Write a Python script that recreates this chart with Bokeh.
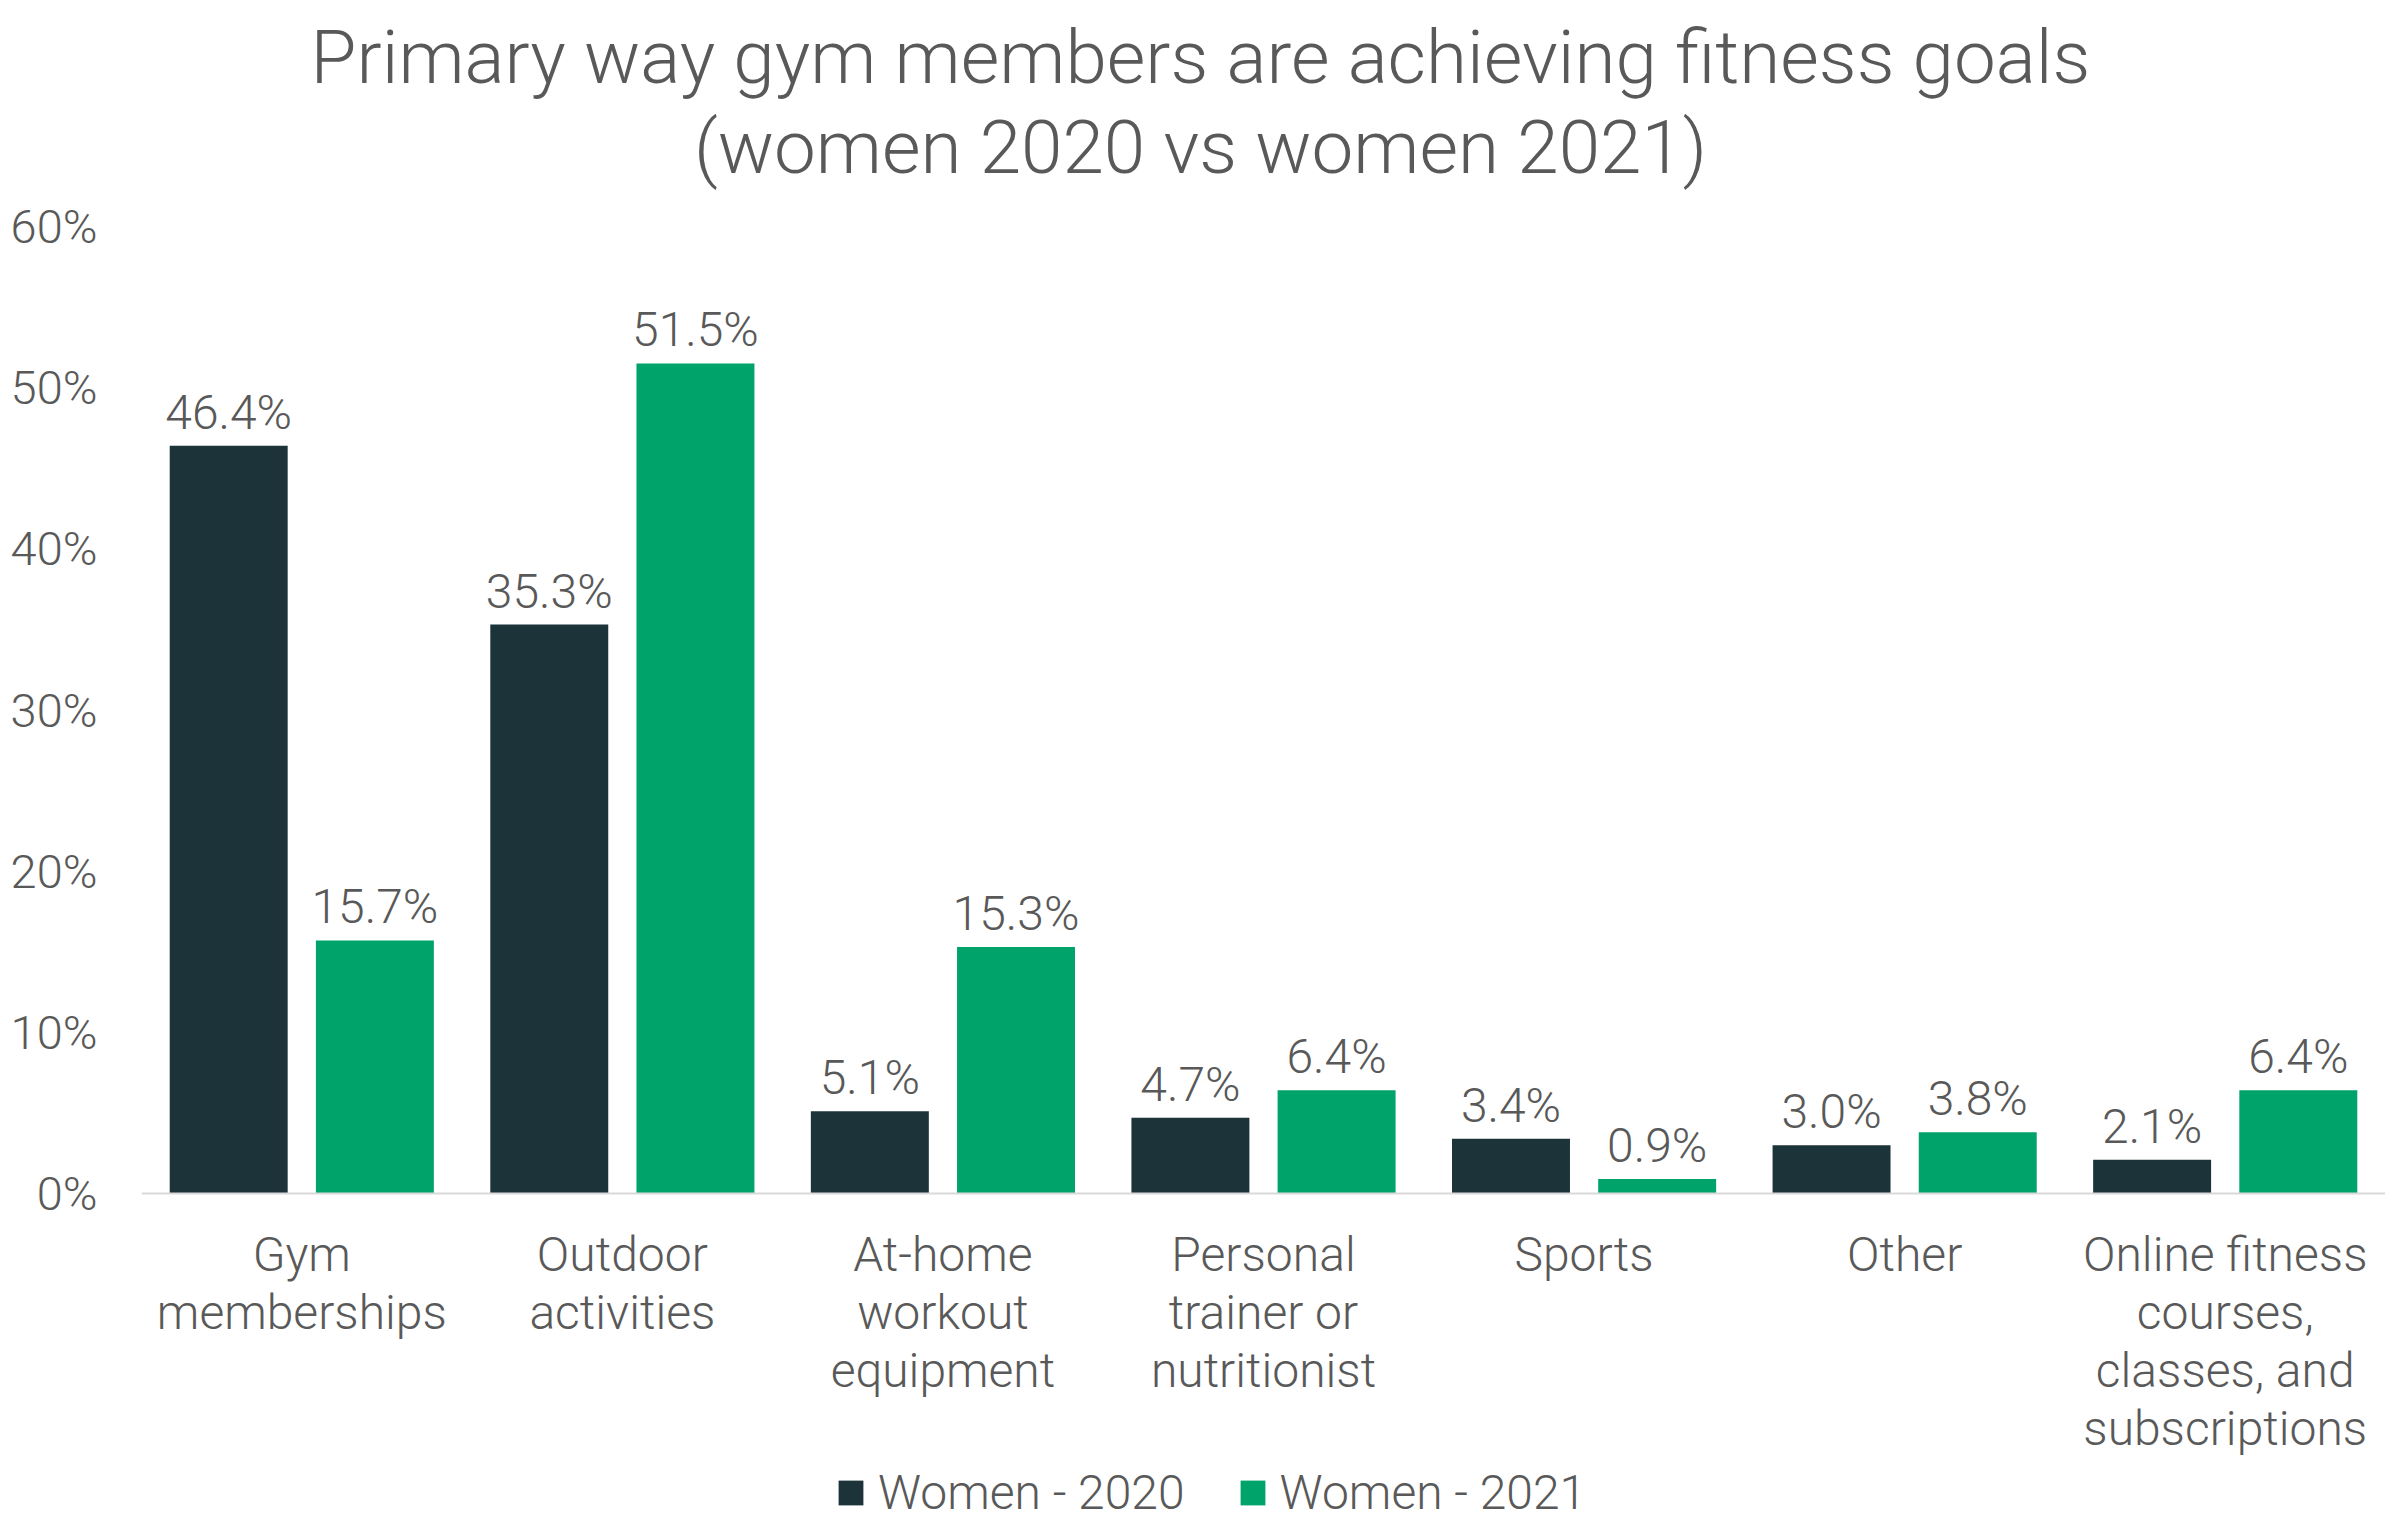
from bokeh.plotting import figure
from bokeh.models import (ColumnDataSource, FactorRange, Range1d, FixedTicker,
                          PrintfTickFormatter, Legend, LegendItem, Label, LabelSet, Span)
from bokeh.transform import dodge
from bokeh.core.properties import value
from bokeh.embed import file_html
from bokeh.resources import INLINE

title_lines = ["Primary way gym members are achieving fitness goals",
               "(women 2020 vs women 2021)"]
categories = ["Gym\nmemberships", "Outdoor\nactivities", "At-home\nworkout\nequipment",
              "Personal\ntrainer or\nnutritionist", "Sports", "Other",
              "Online fitness\ncourses,\nclasses, and\nsubscriptions"]
women_2020 = [46.4, 35.3, 5.1, 4.7, 3.4, 3.0, 2.1]
women_2021 = [15.7, 51.5, 15.3, 6.4, 0.9, 3.8, 6.4]
series_names = ["Women - 2020", "Women - 2021"]
y_ticks = [0, 10, 20, 30, 40, 50, 60]

FONT = "Roboto Light"
GRAY = "#595959"
DARK = "#1C333A"
GREEN = "#00A36A"

# layout (pixels)
LEFT = 141          # frame left edge
FRAME_W = 2244
H = 1530            # frame (= figure) height
BASE = 1193         # y of the 0% baseline from the top
TOP60 = 226         # y of 60% from the top
ppu = (BASE - TOP60) / 60.0
y_start = -(H - BASE) / ppu
y_end = BASE / ppu

src = ColumnDataSource(dict(
    cat=categories,
    w20=women_2020,
    w21=women_2021,
    l20=[f"{v:.1f}%" for v in women_2020],
    l21=[f"{v:.1f}%" for v in women_2021],
))

p = figure(x_range=FactorRange(*categories, range_padding=0),
           y_range=Range1d(y_start, y_end),
           frame_width=FRAME_W, frame_height=H,
           output_backend="svg", toolbar_location=None,
           min_border_left=LEFT, min_border_right=0, min_border_top=0,
           min_border_bottom=0)

off = 0.228
bw = 0.368
r1 = p.vbar(x=dodge("cat", -off, range=p.x_range), top="w20", width=bw, source=src,
            fill_color=DARK, line_color=None)
r2 = p.vbar(x=dodge("cat", off, range=p.x_range), top="w21", width=bw, source=src,
            fill_color=GREEN, line_color=None)

# baseline
p.add_layout(Span(location=0, dimension="width", line_color="#D9D9D9", line_width=2))

# value labels
for col, ycol, o in (("l20", "w20", -off), ("l21", "w21", off)):
    p.add_layout(LabelSet(x=dodge("cat", o, range=p.x_range), y=ycol, text=col, source=src,
                          text_align="center", text_baseline="alphabetic", y_offset=17,
                          text_font=value(FONT), text_font_size=value("48px"),
                          text_color=GRAY))

# category labels, one line at a time below the baseline
split = [c.split("\n") for c in categories]
for k in range(max(len(s) for s in split)):
    cats = [c for c, s in zip(categories, split) if len(s) > k]
    txt = [s[k] for s in split if len(s) > k]
    lsrc = ColumnDataSource(dict(cat=cats, txt=txt, y=[0] * len(cats)))
    p.add_layout(LabelSet(x="cat", y="y", text="txt", source=lsrc,
                          text_align="center", text_baseline="alphabetic",
                          y_offset=-(77 + 58 * k),
                          text_font=value(FONT), text_font_size=value("48px"),
                          text_color=GRAY))

# title (two centred lines)
for line, base_y in zip(title_lines, (82, 172)):
    p.add_layout(Label(x=1200 - LEFT, y=H - base_y + 25, x_units="screen", y_units="screen",
                       text=line, text_align="center", text_baseline="alphabetic",
                       text_font=FONT, text_font_size="74.6px", text_color=GRAY))

p.yaxis.ticker = FixedTicker(ticks=y_ticks)
p.yaxis.formatter = PrintfTickFormatter(format="%d%%")
p.yaxis.axis_line_color = None
p.yaxis.major_tick_line_color = None
p.yaxis.minor_tick_line_color = None
p.yaxis.major_label_text_font = FONT
p.yaxis.major_label_text_font_size = "47px"
p.yaxis.major_label_text_color = GRAY
p.yaxis.major_label_standoff = 38

p.xaxis.visible = False
p.xgrid.grid_line_color = None
p.ygrid.grid_line_color = None
p.outline_line_color = None

legend = Legend(items=[LegendItem(label=series_names[0], renderers=[r1]),
                       LegendItem(label=series_names[1], renderers=[r2])],
                orientation="horizontal", location=(694, 9),
                border_line_color=None, background_fill_alpha=0,
                label_text_font=FONT, label_text_font_size="48px",
                label_text_color=GRAY, glyph_width=31, glyph_height=31,
                spacing=52, label_standoff=12, padding=0, margin=0)
p.add_layout(legend, "center")

open("out.html", "w").write(file_html(p, INLINE))
